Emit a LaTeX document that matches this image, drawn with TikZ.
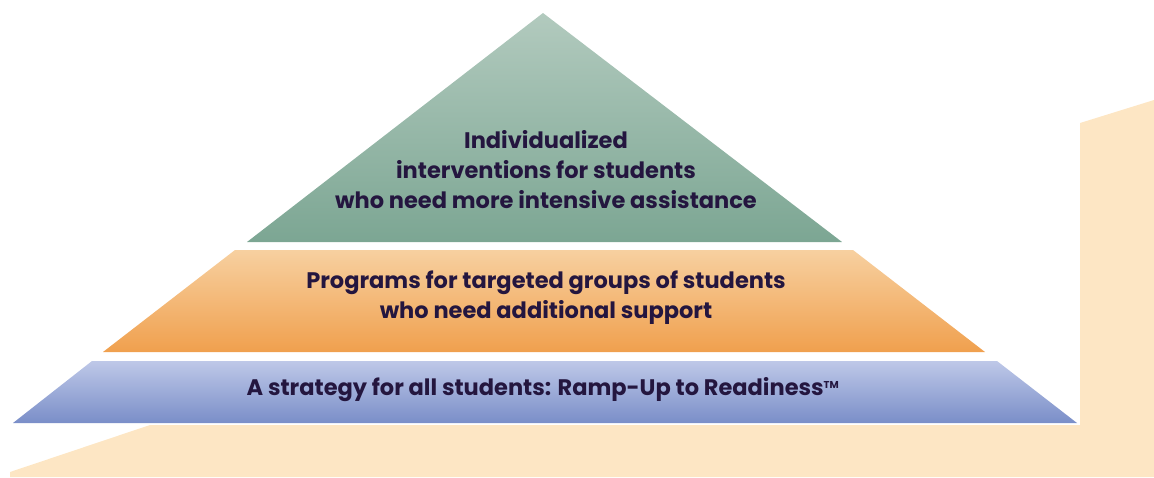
\documentclass[tikz,border=0pt]{standalone}
\usepackage{fontspec}
\setmainfont{Poppins}
\usepackage{tikz}
\definecolor{rampfill}{HTML}{FDE6C4}
\definecolor{labeltext}{HTML}{24163F}
\tikzstyle{ramp} = [fill=rampfill]
\tikzstyle{greentier} = [top color={rgb,255:red,178;green,202;blue,190}, bottom color={rgb,255:red,124;green,166;blue,147}]
\tikzstyle{orangetier} = [top color={rgb,255:red,247;green,208;blue,160}, bottom color={rgb,255:red,240;green,160;blue,78}]
\tikzstyle{bluetier} = [top color={rgb,255:red,190;green,200;blue,232}, bottom color={rgb,255:red,122;green,142;blue,200}]
\tikzstyle{label} = [text=labeltext, align=center, font=\fontsize{22.5}{30}\selectfont\bfseries, inner sep=0pt]

\begin{document}
\begin{tikzpicture}[x=1pt, y=-1pt]
    \useasboundingbox (0,0) rectangle (1154,477);
    % Ramp behind the pyramid
    \fill [ramp] (10,472) -- (150,425) -- (1080,425) -- (1080,123) -- (1154,100)
        -- (1154,477) -- (10,477) -- cycle;

    % Pyramid tiers
    \shade [greentier] (543,13) -- (842,242) -- (247,242) -- cycle;
    \shade [orangetier] (235,250) -- (853,250) -- (985,352) -- (103,352) -- cycle;
    \shade [bluetier] (92,361) -- (997,361) -- (1077,423) -- (13,423) -- cycle;

    % Place nodes
    \node [label] (top) at (546,170) {Individualized\\interventions for students\\who need more intensive assistance};
    \node [label] (middle) at (546,298) {Programs for targeted groups of students\\who need additional support};
    \node [label] (base) at (543,390) {A strategy for all students: Ramp-Up to Readiness\textsuperscript{\fontsize{10}{10}\selectfont TM}};
\end{tikzpicture}
\end{document}
